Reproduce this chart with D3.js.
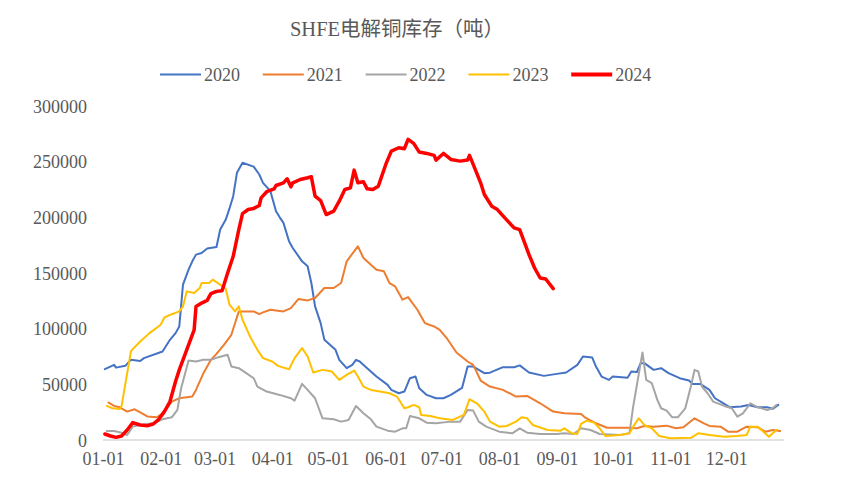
<!DOCTYPE html>
<html><head><meta charset="utf-8">
<script src="https://cdn.jsdelivr.net/npm/d3@7"></script>
<style>
body{margin:0;background:#fff;}
text{font-family:"Liberation Serif","Noto Sans CJK SC",serif;}
</style>
</head><body>
<svg id="chart" width="855" height="479"></svg>
<script>
// ---------- data ----------
const chartTitle = "SHFE电解铜库存（吨）";
const seriesNames = ["2020", "2021", "2022", "2023", "2024"];
const seriesColors = ["#4472C4", "#ED7D31", "#A5A5A5", "#FFC000", "#FF0000"];
const yTickValues = [0, 50000, 100000, 150000, 200000, 250000, 300000];
const xTickFormat = "%m-%d";

// day of year (0 = Jan 1) and inventory in tonnes
const days2020 = [1,6,7,12,15,20,22,32,36,39,41,43,46,48,50,53,56,61,63,66,68,70,72,75,81,84,86,90,93,95,97,100,102,107,110,112,114,117,119,125,127,131,134,136,138,142,147,153,155,159,162,165,168,170,174,179,183,187,193,196,199,205,208,215,221,224,229,237,244,249,255,258,263,265,268,272,274,282,284,287,289,291,296,300,304,310,315,317,321,326,329,334,337,343,347,352,357,360,363];
const vals2020 = [63600,67500,65000,66600,72000,71000,73500,79500,90000,96000,102000,139500,153000,160500,166500,168000,172000,173400,189000,198000,208000,219000,240000,249000,245500,238500,231000,223500,205500,200000,195000,178500,172500,160500,156000,141000,120000,105000,90000,81000,72000,64500,67500,72000,70500,64500,57000,49500,45000,42000,43500,55500,57000,46500,40500,37500,37500,40500,46800,66000,66000,60000,60500,65400,65400,67000,60600,57600,59400,60600,67500,75000,74000,66000,57000,54000,57000,56000,61500,61000,69000,69000,63000,64500,60000,55500,53400,50400,50400,45000,37500,32400,29400,30000,31500,29400,29400,28000,31500];

const days2021 = [3,6,9,13,17,21,24,29,32,37,41,48,50,54,58,61,65,69,73,77,81,84,86,90,97,101,105,110,114,119,124,128,131,137,140,147,151,154,157,161,164,169,173,178,181,185,190,196,199,203,208,215,222,228,235,242,248,257,259,265,271,282,287,291,296,303,308,312,318,323,326,332,336,341,346,352,356,360,364];
const vals2021 = [33600,30600,29400,25500,27600,24000,21000,20400,24000,34500,37500,39000,45000,60000,72000,77400,85500,94500,115500,115500,115500,113000,114600,117000,115500,118500,126600,125400,127500,136500,136500,141000,160500,174000,163500,153000,151500,141000,138000,126000,128400,117000,105000,102000,99000,91000,78600,70500,67500,53400,48000,45000,39000,39600,33000,25500,24000,23400,20400,15000,11000,11000,10500,12600,12000,12900,10500,11400,19500,15000,12600,12000,7500,7500,12000,11400,7500,9000,8000];

const days2022 = [2,6,10,13,16,20,27,32,37,40,42,46,50,54,58,62,67,69,73,77,81,83,88,90,95,101,103,107,110,114,118,124,128,132,136,140,144,147,153,157,161,163,165,170,174,179,187,192,196,199,202,206,213,220,224,228,235,244,248,253,257,262,267,278,283,285,290,292,295,298,300,303,306,309,313,316,318,320,322,325,328,334,338,341,344,348,352,357,360,362];
const vals2022 = [8000,8000,6600,4500,12000,13500,15000,18600,20400,27000,46500,71400,70500,72000,72000,74400,76500,66000,64500,60000,55500,48000,43500,42600,40500,37500,35400,50400,45000,37500,19500,18600,16500,18000,30600,24000,18600,12000,8400,7500,10500,10500,21600,19500,15600,15000,16500,16500,27000,26400,16500,12000,7500,6000,10500,6600,5400,5400,6000,5400,10500,9000,5400,4500,6000,30000,78600,54000,51000,36000,28500,26400,20400,20400,28500,48000,63000,61500,48000,42000,34500,30600,28500,21000,24000,33000,29400,27000,28500,31500];

const days2023 = [2,5,9,10,13,15,16,20,25,31,33,37,41,43,45,49,52,53,57,59,63,66,68,71,73,75,79,83,86,91,94,100,103,107,110,113,118,123,127,131,135,137,140,144,149,154,158,162,164,167,170,171,176,181,188,194,197,201,205,208,213,217,222,225,228,231,239,246,248,252,255,257,260,264,267,270,278,283,285,288,291,295,299,305,316,320,326,334,341,346,348,352,355,358,360,362];
const vals2023 = [30600,28500,27900,30600,60000,79500,81600,88500,96000,103500,110000,113000,115500,120000,133500,132000,136500,141000,141000,144000,139500,135600,121500,115500,120000,108000,93000,81000,73500,70500,66600,63600,73500,82500,75000,60600,63000,61500,54000,58500,62400,57000,48000,45000,43500,42000,39000,28500,29400,31500,29400,22500,21600,19500,18000,22500,36600,33000,25500,16500,12000,12600,16500,20400,19500,13500,9000,8400,10500,6000,5400,14400,17400,15600,10500,3600,4500,6000,12000,19500,13500,10500,3600,1500,2000,6000,4500,3000,3600,4500,12000,12000,7500,3000,6000,9000];

const days2024 = [1,4,7,10,13,16,20,24,27,30,33,36,39,41,45,49,50,53,56,58,61,64,67,70,73,75,78,81,84,85,88,92,93,97,99,101,102,106,110,112,114,117,120,124,127,130,133,135,137,140,142,145,148,152,155,159,162,164,167,170,174,178,179,183,187,192,196,197,199,203,205,209,212,216,221,224,226,229,232,235,238,242];
const vals2024 = [5400,3600,2400,3600,9000,15600,13500,12900,14400,18600,25500,34500,52500,63000,81000,99000,120000,123000,125400,131400,133500,134000,150000,165000,189000,203400,207000,208000,210600,217500,223000,225600,228600,231000,234600,227400,231000,234000,235500,236400,219000,215000,202500,205500,214500,225000,226500,242400,231000,232000,225600,225000,228000,247500,259500,262500,261600,270000,266400,258600,257400,255600,251400,257400,252000,250500,251400,255600,247500,231000,220500,210000,207000,199500,190500,189000,180000,166500,154500,145500,144600,136000];

const allDays = [days2020, days2021, days2022, days2023, days2024];
const allVals = [vals2020, vals2021, vals2022, vals2023, vals2024];

// ---------- drawing ----------
const svg = d3.select("#chart");
const base = new Date(2024, 0, 1);
const x = d3.scaleTime().domain([base, new Date(2024, 11, 31)]).range([103, 782]);
const y = d3.scaleLinear().domain([0, 300000]).range([440, 106]);
const textColor = "#595959";

// title
svg.append("text").attr("x", 397).attr("y", 29).attr("dy", "0.35em")
  .attr("text-anchor", "middle").attr("font-size", 20.5).attr("fill", textColor)
  .text(chartTitle);

// legend
const legend = svg.append("g");
seriesNames.forEach((name, i) => {
  const lx = 160 + i * 102.8;
  legend.append("line").attr("x1", lx).attr("x2", lx + 41).attr("y1", 74.5).attr("y2", 74.5)
    .attr("stroke", seriesColors[i]).attr("stroke-width", i === 4 ? 4 : 2);
  legend.append("text").attr("x", lx + 44).attr("y", 74.5).attr("dy", "0.35em")
    .attr("font-size", 18).attr("fill", textColor).text(name);
});

// y axis labels
const yAxis = d3.axisLeft(y).tickValues(yTickValues).tickFormat(d3.format("d")).tickSize(0).tickPadding(0);
const gy = svg.append("g").attr("transform", "translate(87,0)").call(yAxis);
gy.select(".domain").remove();
gy.selectAll("text").attr("font-size", 18).attr("fill", textColor)
  .attr("font-family", "Liberation Serif").attr("dy", "0.35em");

// x axis
const xAxis = d3.axisBottom(x)
  .tickValues(d3.timeMonth.range(base, new Date(2024, 11, 2)))
  .tickFormat(d3.timeFormat(xTickFormat)).tickSize(0).tickPadding(0);
const gx = svg.append("g").attr("transform", "translate(0,440)").call(xAxis);
gx.select(".domain").attr("stroke", "#D9D9D9").attr("stroke-width", 1.3)
  .attr("d", `M${x.range()[0]},0H784`);
gx.selectAll("text").attr("font-size", 18).attr("fill", textColor)
  .attr("font-family", "Liberation Serif").attr("y", 19).attr("dy", "0.35em");

// lines
const line = d3.line()
  .x(d => x(d3.timeDay.offset(base, d[0])))
  .y(d => y(d[1]));
seriesNames.forEach((name, i) => {
  const pts = allDays[i].map((d, j) => [d, allVals[i][j]]);
  svg.append("path").datum(pts)
    .attr("fill", "none")
    .attr("stroke", seriesColors[i])
    .attr("stroke-width", i === 4 ? 3.5 : 2)
    .attr("stroke-linejoin", "round")
    .attr("stroke-linecap", "round")
    .attr("d", line);
});
</script>
</body></html>
